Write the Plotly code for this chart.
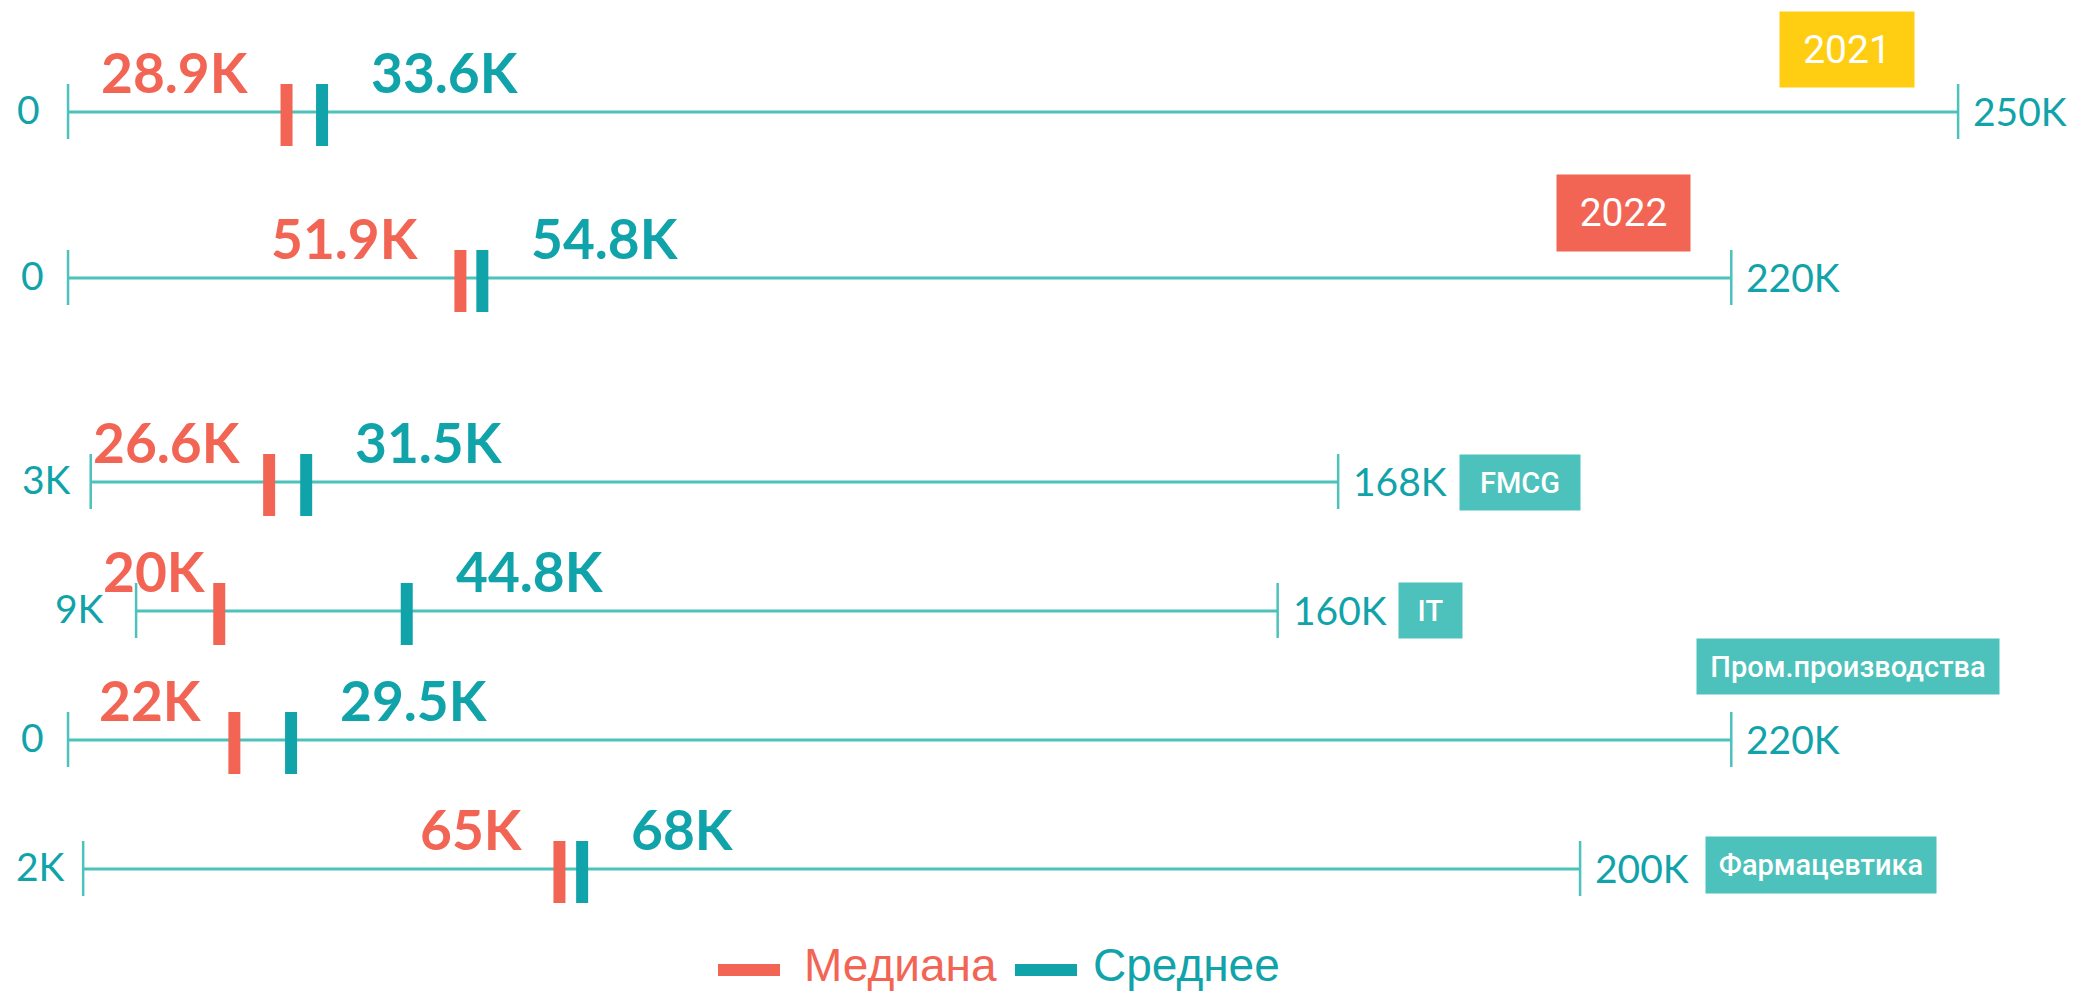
import plotly.graph_objects as go

# data
segments = ["2021", "2022", "FMCG", "IT", "Пром.производства", "Фармацевтика"]
mins = [0, 0, 3000, 9000, 0, 2000]
maxs = [250000, 220000, 168000, 160000, 220000, 200000]
medians = [28900, 51900, 26600, 20000, 22000, 65000]
means = [33600, 54800, 31500, 44800, 29500, 68000]
legend_names = ["Медиана", "Среднее"]

RED = "#f26554"
TEAL = "#11a3aa"
LIGHT = "#4dc1bb"
YELLOW = "#ffce12"

W, H = 2073, 991

# layout: vertical position of each row (pixels from top)
row_y = [112, 278, 482, 611, 740, 869]
badge_color = [YELLOW, RED, LIGHT, LIGHT, LIGHT, LIGHT]
# anchor, xshift from max tick, dy from row line, width, height, font size
badge_style = [
    ("right", -43, -63, 134, 75, 39),
    ("right", -40, -65, 133, 76, 39),
    ("left", 121, 0, 120, 55, 29),
    ("left", 120, -1, 63, 55, 29),
    ("left", -35, -74, 302, 55, 29),
    ("left", 125, -4, 230, 56, 29),
]
# gaps of the median label and the left end label (IT row is tight)
med_gap = [-36, -39, -26, -11, -30, -34]
min_gap = [-26, -22, -18, -30, -22, -16]


def fmt(v):
    if v == 0:
        return "0"
    return f"{v / 1000:g}K"


def segs(xs0, xs1, ys0, ys1):
    xs, ys = [], []
    for a, b, c, d in zip(xs0, xs1, ys0, ys1):
        xs += [a, b, None]
        ys += [c, d, None]
    return xs, ys


fig = go.Figure()

# range lines
lx, ly = segs(mins, maxs, row_y, row_y)
fig.add_trace(go.Scatter(x=lx, y=ly, mode="lines", line=dict(color=LIGHT, width=3),
                         hoverinfo="skip", showlegend=False))

# end ticks
tx, ty = segs(mins + maxs, mins + maxs,
              [y - 28 for y in row_y] * 2, [y + 27 for y in row_y] * 2)
fig.add_trace(go.Scatter(x=tx, y=ty, mode="lines", line=dict(color=LIGHT, width=2.5),
                         hoverinfo="skip", showlegend=False))

# median / mean markers
for vals, col, name in [(medians, RED, legend_names[0]), (means, TEAL, legend_names[1])]:
    mx, my = segs(vals, vals, [y - 28 for y in row_y], [y + 34 for y in row_y])
    fig.add_trace(go.Scatter(x=mx, y=my, mode="lines", line=dict(color=col, width=12),
                             name=name, showlegend=False))

ann = []
for i, seg in enumerate(segments):
    ry = row_y[i]
    # value labels
    ann.append(dict(x=medians[i], y=ry - 40, text=fmt(medians[i]), xanchor="right",
                    xshift=med_gap[i], font=dict(family="Lato", size=55, color=RED, weight="bold")))
    ann.append(dict(x=means[i], y=ry - 40, text=fmt(means[i]), xanchor="left",
                    xshift=47, font=dict(family="Lato", size=55, color=TEAL, weight="bold")))
    # range end labels
    ann.append(dict(x=mins[i], y=ry - 3, text=fmt(mins[i]), xanchor="right", xshift=min_gap[i],
                    font=dict(family="Lato", size=39, color=TEAL)))
    ann.append(dict(x=maxs[i], y=ry - 1, text=fmt(maxs[i]), xanchor="left", xshift=13,
                    font=dict(family="Lato", size=39, color=TEAL)))
    # badge
    anc, xs, dy, bw, bh, fs = badge_style[i]
    ann.append(dict(x=maxs[i], y=ry + dy, text=seg, xanchor=anc, xshift=xs, yanchor="middle",
                    width=bw, height=bh, bgcolor=badge_color[i], borderpad=0, align="center",
                    valign="middle",
                    font=dict(family="Roboto", size=fs, color="white",
                              weight=400 if i < 2 else 500)))

for a in ann:
    a.setdefault("yanchor", "middle")
    a["showarrow"] = False
    a["xref"] = "x"
    a["yref"] = "y"

# manual legend
shapes = []
leg = [(718, 780, 802, RED), (1015, 1077, 1091, TEAL)]
for (x0, x1, tx0, col), name in zip(leg, legend_names):
    shapes.append(dict(type="line", xref="paper", yref="y", x0=x0 / W, x1=x1 / W,
                       y0=970, y1=970, line=dict(color=col, width=12)))
    ann.append(dict(xref="paper", yref="y", x=tx0 / W, y=965, text=name, xanchor="left",
                    yanchor="middle", showarrow=False,
                    font=dict(family="Liberation Sans", size=46, color=col)))

fig.update_layout(
    width=W, height=H,
    margin=dict(l=0, r=0, t=0, b=0),
    paper_bgcolor="white",
    plot_bgcolor="white",
    xaxis=dict(visible=False, range=[-9000, 265200], fixedrange=True),
    yaxis=dict(visible=False, range=[H, 0], fixedrange=True),
    annotations=ann,
    shapes=shapes,
    showlegend=False,
)

fig.write_html("out.html", config={"displayModeBar": False},
               post_script="document.body.style.margin='0';")
